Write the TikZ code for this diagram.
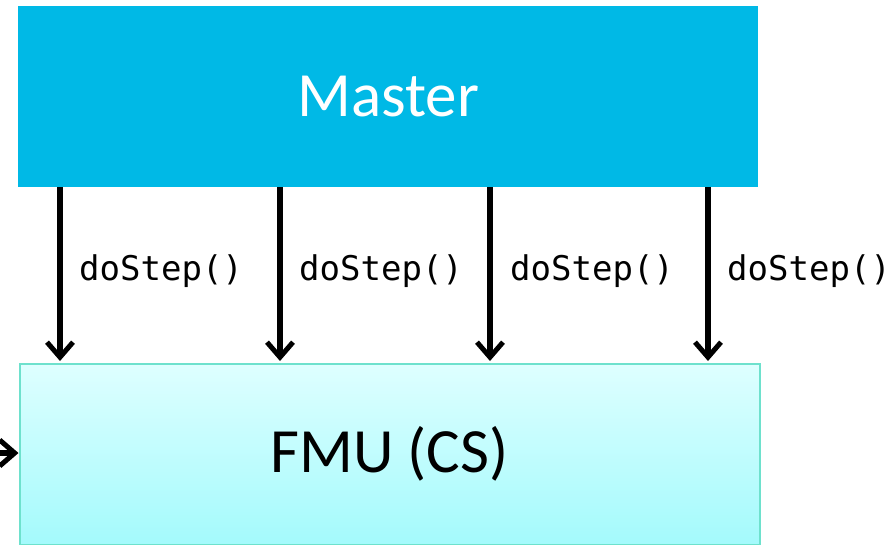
\documentclass[tikz,border=0pt]{standalone}
\usepackage{fontspec}
\setmainfont{Carlito}
\newfontfamily\codefont{DejaVu Sans Mono}
\usetikzlibrary{arrows.meta,shadows}
\definecolor{mastercol}{RGB}{0,185,230}
\definecolor{fmutop}{RGB}{222,255,255}
\definecolor{fmubot}{RGB}{164,250,252}
\definecolor{fmuedge}{RGB}{110,225,205}
\tikzset{
  callarrow/.style={line width=5.5pt, -{Straight Barb[length=15pt,width=26pt,line width=5pt]}},
  calllabel/.style={font=\codefont\fontsize{34}{38}\selectfont, anchor=west, inner sep=0pt},
}
\begin{document}
\begin{tikzpicture}[x=1pt,y=-1pt]
  \useasboundingbox (0,0) rectangle (894,545);
  % Master block
  \node[fill=mastercol, minimum width=740pt, minimum height=181pt, inner sep=0pt,
        font=\fontsize{63}{66}\selectfont, text=white, anchor=north west]
       (master) at (18,6) {Master};
  % FMU block
  \node[draw=fmuedge, line width=2pt, top color=fmutop, bottom color=fmubot,
        drop shadow={shadow xshift=1.5pt, shadow yshift=-1pt, opacity=0.18},
        minimum width=740pt, minimum height=181pt, inner sep=0pt,
        font=\fontsize{63}{66}\selectfont, anchor=north west]
       (fmu) at (18.5,362.5) {FMU (CS)};
  % doStep() calls
  \foreach \i/\x/\lx in {1/60/79, 2/280/299, 3/490/510, 4/708/727}{
    \coordinate (top\i) at (\x,187);
    \coordinate (bot\i) at (\x,361);
    \draw[callarrow] (top\i) -- (bot\i);
    \node[calllabel] (lab\i) at (\lx,271) {doStep()};
  }
  % incoming call from the left
  \coordinate (inL) at (-40,453);
  \draw[callarrow] (inL) -- (fmu.west |- inL);
\end{tikzpicture}
\end{document}
